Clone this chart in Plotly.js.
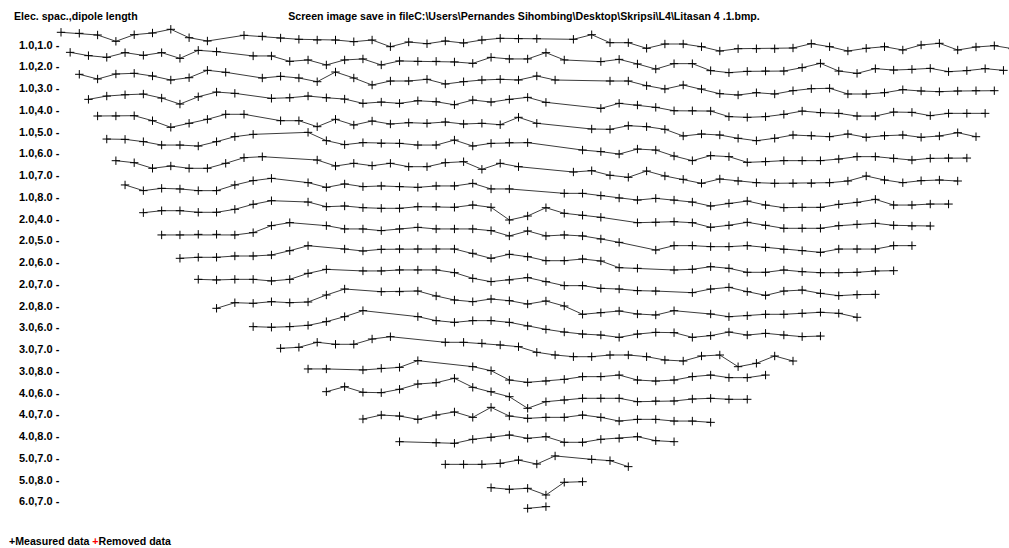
<!DOCTYPE html>
<html><head><meta charset="utf-8">
<script src="https://cdn.plot.ly/plotly-3.0.1.min.js"></script>
<style>html,body{margin:0;padding:0;background:#fff}#chart{width:1009px;height:548px}</style>
</head><body><div id="chart"></div>
<script>
// Data levels: (electrode spacing, dipole length)
const rowLabels = ["1.0,1.0","1.0,2.0","1.0,3.0","1.0,4.0","1.0,5.0","1.0,6.0","1.0,7.0","1.0,8.0",
  "2.0,4.0","2.0,5.0","2.0,6.0","2.0,7.0","2.0,8.0","3.0,6.0","3.0,7.0","3.0,8.0",
  "4.0,6.0","4.0,7.0","4.0,8.0","5.0,7.0","5.0,8.0","6.0,7.0"];

// Midpoint positions (electrode-spacing units) and relative data levels for each row
const pos_1_1 = [1.5,2.5,3.5,4.5,5.5,6.5,7.5,8.5,9.5,11.5,12.5,13.5,14.5,15.5,16.5,17.5,18.5,19.5,20.5,21.5,22.5,23.5,24.5,25.5,26.5,27.5,29.5,30.5,31.5,32.5,33.5,34.5,35.5,36.5,37.5,38.5,39.5,40.5,41.5,42.5,43.5,44.5,45.5,46.5,47.5,48.5,49.5,50.5,51.5,52.5,53.5];
const val_1_1 = [12.2,11.2,9.5,3.2,9.8,11.5,15.2,6.8,3.5,9.2,8.2,6.5,5.2,4.5,4.5,2.8,4.5,-2.2,2.5,0.8,3.5,1.5,4.5,6.2,5.8,5.8,5.2,9.8,1.8,1.8,-3.8,0.5,0.5,-2.2,-6.5,-4.2,-4.2,-4.2,-3.5,0.8,-2.2,-6.5,-3.8,-2.2,-5.5,-0.5,1.2,-5.5,-2.5,-1.2,-4.2];

const pos_1_2 = [2,3,4,5,6,7,8,9,10,12,13,14,15,16,17,18,19,20,21,22,23,24,25,26,27,28,29,31,32,33,34,35,36,37,38,39,40,41,42,43,44,45,46,47,48,49,50,51,52,53];
const val_1_2 = [13.9,10.6,8.9,13.6,10.9,13.6,7.9,15.9,14.6,10.3,10.3,4.9,6.3,1.3,6.3,7.3,1.3,5.3,4.9,4.9,4.3,2.9,8.9,7.3,7.3,13.6,6.3,4.6,6.9,2.3,-2.8,2.6,2.6,-4.4,-6.4,-5.1,-4.8,-4.8,-1.4,2.9,-4.8,-7.1,-2.4,-3.8,-3.1,-2.1,-5.4,-4.4,-2.4,-4.1];

const pos_1_3 = [2.5,3.5,4.5,5.5,6.5,7.5,8.5,9.5,10.5,12.5,13.5,14.5,15.5,16.5,17.5,18.5,19.5,20.5,21.5,22.5,23.5,24.5,25.5,26.5,27.5,28.5,31.5,32.5,33.5,34.5,35.5,36.5,37.5,38.5,39.5,40.5,41.5,42.5,43.5,44.5,45.5,46.5,47.5,48.5,49.5,50.5,51.5,52.5];
const val_1_3 = [13.7,9,14,14.7,12,8,10.3,17.7,15.7,10,11.7,10,6.3,16,10,3,7,7,8.7,4,6.3,8,8.7,8,12,8,7,7,2.3,-1,3,-1,-5.7,-7,-4.7,-6,-2.7,-0.7,-0.3,-6,-6,-4.7,-1.7,-3,-3.7,-3,-2.7,-2.7];

const pos_1_4 = [3,4,5,6,7,8,9,10,11,13,14,15,16,17,18,19,20,21,22,23,24,25,26,27,28,31,32,33,34,35,36,37,38,39,40,41,42,43,44,45,46,47,48,49,50,51,52];
const val_1_4 = [10.4,13.7,15,15.7,11.7,5.7,13,17.7,16.4,11.4,12,13.7,12,10.7,6.4,7.7,6.4,9,8,5,9.7,7.7,10.4,12.4,7.4,1.4,6.4,4.7,2.4,-1,-1,-1.3,-6.9,-7.6,-6.9,-4.6,-1.3,-2.9,-3.6,-6.3,-6.3,-2.3,-2.6,-5.9,-3.6,-3.6,-3.6];

const pos_1_5 = [3.5,4.5,5.5,6.5,7.5,8.5,9.5,10.5,11.5,13.5,14.5,15.5,16.5,17.5,18.5,19.5,20.5,21.5,22.5,23.5,24.5,25.5,26.5,27.5,30.5,31.5,32.5,33.5,34.5,35.5,36.5,37.5,38.5,39.5,40.5,41.5,42.5,43.5,44.5,45.5,46.5,47.5,48.5,49.5,50.5,51.5];
const val_1_5 = [15.5,15.5,15.8,10.8,4.2,8.2,12.2,17.2,17.2,10.8,10.8,4.8,12.2,6.5,10.5,7.5,8.8,8.2,9.5,7.5,8.2,6.8,14.2,8.2,2.5,2.2,5.8,4.8,2.2,-4.5,-2.5,-3.5,-6.8,-9.2,-6.8,-3.5,-4.2,-5.2,-2.5,-5.8,-4.2,-3.5,-5.8,-4.5,-1.2,-5.2];

const pos_1_6 = [4,5,6,7,8,9,10,11,12,15,16,17,18,19,20,21,22,23,24,25,26,27,30,31,32,33,34,35,36,37,38,39,40,41,42,43,44,45,46,47,48,49,50,51];
const val_1_6 = [14.2,13.9,11.6,8.2,8.2,7.2,11.6,16.6,18.9,20.9,12.6,8.6,10.6,9.9,9.9,8.2,8.2,13.2,7.2,9.9,10.6,10.6,3.2,1.6,-0.8,4.2,3.2,-2.8,-7.4,-2.4,-3.4,-9.1,-8.4,-7.4,-7.4,-7.4,-5.8,-3.4,-3.4,-5.1,-6.8,-5.1,-4.8,-4.8];

const pos_1_7 = [4.5,5.5,6.5,7.5,8.5,9.5,10.5,11.5,12.5,15.5,16.5,17.5,18.5,19.5,20.5,21.5,22.5,23.5,24.5,25.5,26.5,29.5,30.5,31.5,32.5,33.5,34.5,35.5,36.5,37.5,38.5,39.5,40.5,41.5,42.5,43.5,44.5,45.5,46.5,47.5,48.5,49.5,50.5];
const val_1_7 = [14.3,12.3,6.7,9,6.7,6.7,11.7,17.3,18.3,15,9,11.7,9.3,11.7,8.3,8.3,12.3,13.3,5.7,11.7,8.3,3,4.3,-0.3,-2.3,4,-1,-4.3,-8.3,-4,-6,-7.7,-8.3,-8.3,-8.3,-7.7,-6,-1,-5,-7.7,-5.7,-5,-6];

const pos_1_8 = [5,6,7,8,9,10,11,12,13,15,16,17,18,19,20,21,22,23,24,25,26,29,30,31,32,33,34,35,36,37,38,39,40,41,42,43,44,45,46,47,48,49,50];
const val_1_8 = [11.8,6.1,8.4,7.8,6.1,6.1,11.8,16.1,18.4,14.1,9.4,12.8,10.1,10.8,10.1,9.4,10.8,10.8,13.4,7.8,7.8,3.4,3.4,1.1,-1.3,-3.3,-1.6,-3.3,-5.3,-9.3,-6.6,-4.3,-8.3,-10.9,-10.6,-10.6,-7.6,-5.6,-2.6,-8.3,-8.3,-7.3,-7.3];

const pos_2_4 = [6,7,8,9,10,11,12,13,15,16,17,18,19,20,21,22,23,24,25,26,27,28,29,30,31,33,34,35,36,37,38,39,40,41,42,43,44,45,46,47,48,49];
const val_2_4 = [5.8,7.8,7.8,6.2,6.2,9.2,14.2,17.8,16.5,11.8,12.5,10.8,10.2,10.2,11.8,11.8,11.2,13.5,11.2,-1.5,2.5,10.8,5.2,3.2,1.2,-4.2,-3.8,-3.2,-4.2,-8.8,-6.8,-3.8,-6.8,-9.8,-9.8,-9.8,-7.2,-5.8,-4.8,-6.8,-7.5,-7.5];

const pos_2_5 = [7,8,9,10,11,12,13,14,16,17,18,19,20,21,22,23,24,25,26,27,28,29,30,31,32,34,35,36,37,38,39,40,41,42,43,44,45,46,47,48];
const val_2_5 = [5.3,5.3,5.9,5.9,5.3,7.6,14.6,17.6,14.6,11.3,11.3,9.6,11.3,12.9,11.3,11.3,11.3,9.6,4.3,9.3,4.3,5.3,4.3,1.3,-2.1,-9.8,-5.4,-5.4,-6.4,-6.4,-5.4,-7.1,-9.1,-10.4,-12.1,-8.8,-8.8,-8.8,-5.4,-5.4];

const pos_2_6 = [8,9,10,11,12,13,14,15,17,18,19,20,21,22,23,24,25,26,27,28,29,30,31,32,33,35,36,37,38,39,40,41,42,43,44,45,46,47];
const val_2_6 = [3.7,4.7,4.7,6,6,7,11.3,16.3,13,11,12.7,13,13,13,13,8.7,3.7,7.7,5.3,1.3,1.3,3,1,-5.7,-6.3,-8,-7.3,-4.7,-6.3,-10.3,-10.3,-8,-9.7,-10.7,-10.7,-10.3,-9,-8.7];

const pos_2_7 = [9,10,11,12,13,14,15,16,18,19,20,21,22,23,24,25,26,27,28,29,30,31,32,33,34,36,37,38,39,40,41,42,43,44,45,46];
const val_2_7 = [4.4,3.8,4.4,4.4,2.8,4.4,10.4,14.4,12.8,12.8,13.8,13.8,13.8,11.1,5.4,2.1,3.8,6.1,2.1,-1.9,-1.9,-4.6,-5.3,-6.9,-7.3,-8.9,-5.3,-3.6,-7.9,-11.6,-7.3,-6.3,-9.6,-11.9,-10.9,-10.6];

const pos_2_8 = [10,11,12,13,14,15,16,17,19,20,21,22,23,24,25,26,27,28,29,30,31,32,33,34,35,37,38,39,40,41,42,43,44,45];
const val_2_8 = [-2.8,2.8,2.2,3.8,2.8,3.5,10.5,16.5,13.8,13.8,14.5,9.5,5.5,3.8,6.5,4.8,1.5,4.5,-0.5,-8.8,-7.2,-5.5,-8.5,-9.5,-5.2,-8.5,-11.2,-10.2,-8.8,-8.8,-7.8,-6.8,-7.8,-11.8];

const pos_3_6 = [12,13,14,15,16,17,18,21,22,23,24,25,26,27,28,29,30,31,32,33,34,35,36,37,38,39,40,41,42,43];
const val_3_6 = [0.6,0,0.6,1.9,5.6,10.6,16.6,10.6,6.6,4.9,6.6,6.6,4.9,1.3,-2.1,-4.8,-6.8,-7.8,-10.1,-6.8,-5.1,-5.4,-10.1,-8.4,-4.8,-7.8,-6.1,-7.8,-9.4,-8.8];

const pos_3_7 = [13.5,14.5,15.5,16.5,17.5,18.5,19.5,22.5,23.5,24.5,25.5,26.5,27.5,28.5,29.5,30.5,31.5,32.5,33.5,34.5,35.5,36.5,37.5,38.5,39.5,40.5,41.5];
const val_3_7 = [0.7,1.7,6.7,4.7,4.7,10,12.3,6.7,6.7,5.7,4,2.3,-3.3,-6,-7.7,-7.7,-6,-6,-7.7,-11,-12,-7,-6,-17.7,-14.3,-7,-12];

const pos_3_8 = [15,16,18,19,20,21,24,25,26,27,28,29,30,31,32,33,34,35,36,37,38,39,40];
const val_3_8 = [1.8,1.8,0.8,2.4,3.4,10.1,4.1,0.1,-9.3,-11.6,-10.3,-8.6,-5.9,-5.9,-4.3,-9.3,-10.3,-9.3,-5.9,-4.3,-6.9,-6.9,-4.3];

const pos_4_6 = [16,17,18,19,20,21,22,23,24,25,26,27,28,29,30,31,32,33,34,35,36,37,38,39];
const val_4_6 = [0.8,5.8,0.2,-0.2,3.2,8.5,9.8,14.2,5.2,0.8,-4.2,-15.8,-9.2,-7.5,-5.8,-5.8,-5.8,-9.2,-8.5,-8.5,-6.5,-5.8,-6.8,-6.8];

const pos_4_7 = [18,19,20,21,22,23,24,25,26,27,28,29,30,31,32,33,34,35,36,37];
const val_4_7 = [-4.8,-0.8,-1.8,-5.1,-0.8,2.3,-3.1,6.9,-1.8,-4.1,-3.1,-3.1,-0.8,-3.1,-6.8,-5.1,-5.1,-6.8,-6.8,-8.1];

const pos_4_8 = [20,22,23,24,25,26,27,28,29,30,31,32,33,34,35];
const val_4_8 = [-5.7,-6.7,-7.3,-3.3,-1.3,1,-2.3,-0.7,-6.3,-6.3,-3.3,-2.3,-0.7,-4.7,-5.7];

const pos_5_7 = [22.5,23.5,24.5,25.5,26.5,27.5,28.5,30.5,31.5,32.5];
const val_5_7 = [-6.6,-6.6,-6.6,-5.6,-2.3,-6.3,1.8,-1.6,-2.9,-8.9];

const pos_5_8 = [25,26,27,28,29,30];
const val_5_8 = [-8.2,-9.8,-8.8,-15.5,-2.8,-2.2];

const pos_6_7 = [27,28];
const val_6_7 = [-7.1,-5.4];

const titleText = "Screen image save in fileC:\\Users\\Pernandes Sihombing\\Desktop\\Skripsi\\L4\\Litasan 4 .1.bmp.";
const cornerText = "Elec. spac.,dipole length";
const legendMeasured = "Measured data";
const legendRemoved = "Removed data";

// ---- drawing ----
const W = 1009, H = 548;
const X0 = 33.55, DX = 18.3;   // pixel of position 0, pixels per unit
const Y0 = 44.5, DY = 21.75;   // pixel of first level label, pixels per level
const series = [
  [pos_1_1,val_1_1],[pos_1_2,val_1_2],[pos_1_3,val_1_3],[pos_1_4,val_1_4],[pos_1_5,val_1_5],
  [pos_1_6,val_1_6],[pos_1_7,val_1_7],[pos_1_8,val_1_8],[pos_2_4,val_2_4],[pos_2_5,val_2_5],
  [pos_2_6,val_2_6],[pos_2_7,val_2_7],[pos_2_8,val_2_8],[pos_3_6,val_3_6],[pos_3_7,val_3_7],
  [pos_3_8,val_3_8],[pos_4_6,val_4_6],[pos_4_7,val_4_7],[pos_4_8,val_4_8],[pos_5_7,val_5_7],
  [pos_5_8,val_5_8],[pos_6_7,val_6_7]
];
const FONT = {family: "Liberation Sans, Arial, sans-serif", size: 11, color: "#000", weight: 700};
const FONT_T = {family: "Liberation Sans, Arial, sans-serif", size: 10.6, color: "#000", weight: 700};

const traces = series.map(([p, v], k) => ({
  type: "scatter", mode: "lines+markers",
  x: p, y: v.map(d => k - d / DY),
  line: {color: "#3c3c3c", width: 1},
  marker: {symbol: "cross-thin", size: 6, color: "#000", line: {color: "#000", width: 1}},
  hoverinfo: "skip", showlegend: false, cliponaxis: true
}));

const annotations = rowLabels.map((t, k) => ({
  text: t + " -", xref: "paper", x: 17 / W, xanchor: "left",
  yref: "y", y: k, yanchor: "middle", showarrow: false, font: FONT
}));
annotations.push({
  text: cornerText, xref: "paper", yref: "paper", x: 12 / W, y: 1 - 16 / H,
  xanchor: "left", yanchor: "middle", showarrow: false, font: FONT_T
});
annotations.push({
  text: "+" + legendMeasured + " <span style=\"color:#ff0000\">+</span>" + legendRemoved,
  xref: "paper", yref: "paper", x: 7 / W, y: 1 - 541 / H,
  xanchor: "left", yanchor: "middle", showarrow: false, font: FONT_T
});

const layout = {
  width: W, height: H,
  margin: {l: 0, r: 0, t: 0, b: 0},
  paper_bgcolor: "#fff", plot_bgcolor: "#fff",
  title: {text: titleText, x: 524 / W, xanchor: "center", y: 1 - 16 / H, yanchor: "middle", font: FONT_T},
  xaxis: {range: [-X0 / DX, (W - X0) / DX], visible: false, fixedrange: true},
  yaxis: {range: [(H - Y0) / DY, -Y0 / DY], visible: false, fixedrange: true},
  annotations: annotations,
  showlegend: false
};

Plotly.newPlot("chart", traces, layout, {staticPlot: true, displayModeBar: false});
</script>
</body></html>
